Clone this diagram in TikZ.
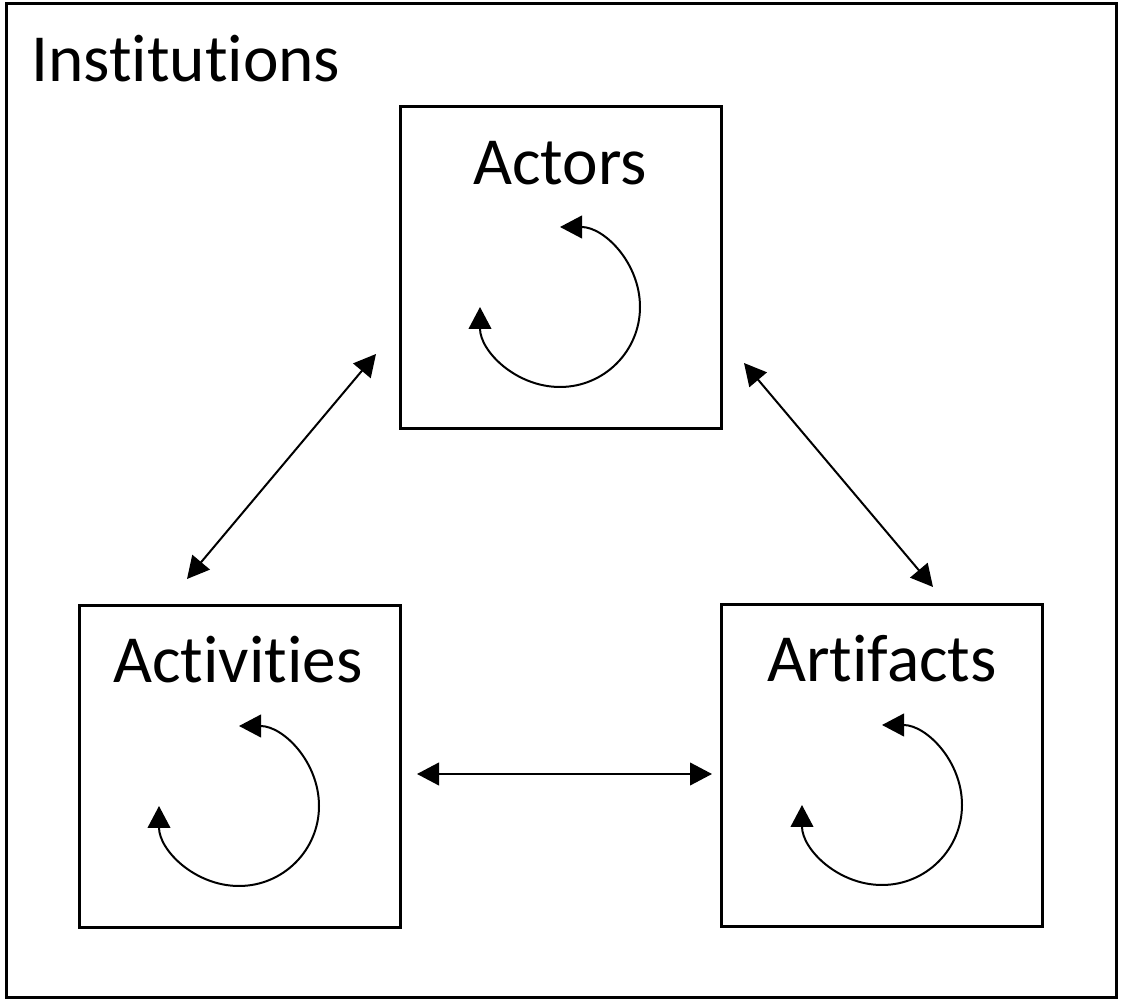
\documentclass[tikz,border=0pt]{standalone}
\usepackage{fontspec}
\setmainfont{Carlito}[Ligatures={NoCommon}]
\usetikzlibrary{arrows.meta}
\begin{document}
\begin{tikzpicture}[x=0.75pt,y=0.75pt,
  frame/.style={draw,line width=2.25pt},
  box/.style={draw,line width=2.25pt,minimum width=240.75pt,minimum height=241.5pt,inner sep=0pt},
  title/.style={anchor=base,inner sep=0pt,font=\fontsize{50.5}{60}\selectfont},
  link/.style={line width=1.5pt,{Triangle[length=16.5pt,width=17pt]}-{Triangle[length=16.5pt,width=17pt]}},
  cyc/.style={line width=1.5pt,{Triangle[length=16.5pt,width=17pt]}-{Triangle[length=16.5pt,width=17pt]}}]
\useasboundingbox (0,0) rectangle (1122,1004);
\fill[white] (0,0) rectangle (1122,1004);
\draw[frame] (6,6) rectangle (1116,1000);
\node[title,anchor=base west] (inst) at (31,922) {Institutions};
\node[box] (actors) at (560.5,736) {};
\node[box] (activities) at (239.5,237) {};
\node[box] (artifacts) at (882,238.5) {};
\node[title] (tact) at (560,819) {Actors};
\node[title] (tactiv) at (238,321) {Activities};
\node[title] (tart) at (882,322) {Artifacts};
% cycle centres
\coordinate (cA) at (560,697);
\coordinate (cB) at (239,198);
\coordinate (cC) at (882,199);
\draw[cyc] ([shift={(90:60pt)}]cA) arc[start angle=90,end angle=-180,radius=60pt];
\draw[cyc] ([shift={(90:60pt)}]cB) arc[start angle=90,end angle=-180,radius=60pt];
\draw[cyc] ([shift={(90:60pt)}]cC) arc[start angle=90,end angle=-180,radius=60pt];
% connectors
\coordinate (p1) at (376,650);
\coordinate (p2) at (187,425);
\coordinate (p3) at (744,641);
\coordinate (p4) at (933,417);
\coordinate (p5) at (417,230);
\coordinate (p6) at (712,230);
\draw[link] (p1) -- (p2);
\draw[link] (p3) -- (p4);
\draw[link] (p5) -- (p6);
\end{tikzpicture}
\end{document}
